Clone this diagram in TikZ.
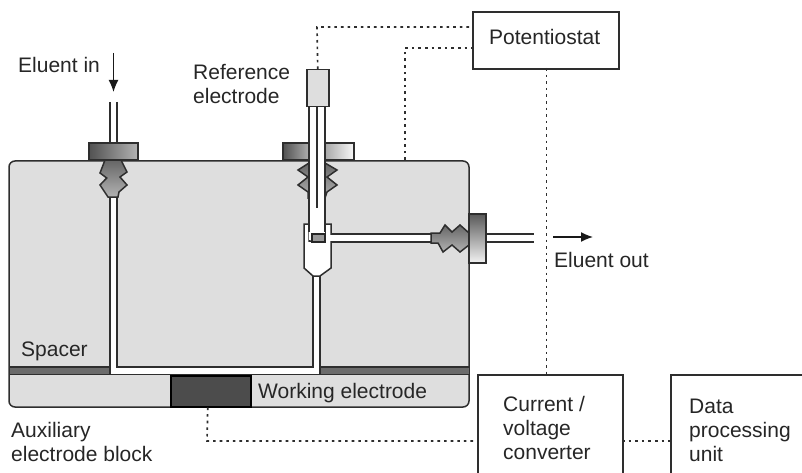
\documentclass[tikz,border=0pt]{standalone}
\usepackage{fontspec}
\setmainfont{Liberation Sans}
\usetikzlibrary{arrows, arrows.meta, positioning, calc, shadings}
\definecolor{blockgray}{gray}{0.87}
\definecolor{spacergray}{gray}{0.42}
\definecolor{workgray}{gray}{0.30}
\definecolor{linegray}{gray}{0.18}
\tikzset{
  >=latex,
  % Boxes and labels
  unit box/.style={draw=linegray,line width=1.6pt,fill=white,inner sep=0,anchor=north west},
  label text/.style={inner sep=0,anchor=west,align=left,font=\fontsize{21}{24}\selectfont,text=black!85},
  % Connections
  signal/.style={dash pattern=on 2.6pt off 4pt,line width=1.7pt,linegray},
  flow arrow/.style={-{Latex[length=12,width=10]},line width=1.4pt,black!90},
  wall/.style={line width=1.5pt,linegray},
  nut left/.style={draw=linegray,line width=1.5pt,left color=black!68,right color=black!30},
  nut light/.style={draw=linegray,line width=1.5pt,left color=black!35,right color=black!3},
  nut down/.style={draw=linegray,line width=1.5pt,top color=black!65,bottom color=black!5},
  screw/.style={draw=linegray,line width=1.5pt,top color=black!60,bottom color=black!30}
}

\begin{document}
\begin{tikzpicture}[x=1pt,y=-1pt]
\useasboundingbox (0,0) rectangle (802,473);

% Cell body
\draw[wall,fill=blockgray,rounded corners=6] (9,161) -- (469,161) -- (469,407) -- (9,407) -- cycle;
\fill[spacergray] (9.6,367) rectangle (468.4,374);
\draw[wall] (9,367) -- (469,367);
\draw[wall] (9,374.5) -- (469,374.5);
\node[draw=black,line width=1.5pt,fill=workgray,minimum width=80,minimum height=31,inner sep=0,anchor=north west] (work) at (170,375) {};

% Channels
\fill[white] (110,197) rectangle (117,374);
\fill[white] (110,367.7) rectangle (320,374);
\fill[white] (313,270) rectangle (320,374);
\draw[wall] (110,197) -- (110,374.5);
\draw[wall] (117,197) -- (117,367) -- (313,367) -- (313,276);
\draw[wall] (320,276) -- (320,374);
\draw[wall,fill=white] (304,224) -- (304,268) -- (313,276) -- (320,276) -- (331,268) -- (331,224) -- (325,224) -- (325,241) -- (309,241) -- (309,224) -- cycle;
\fill[white] (329,235) rectangle (432,241);
\draw[wall] (331,234) -- (432,234);
\draw[wall] (331,242) -- (432,242);

% Inlet fitting
\draw[wall] (110,102) -- (110,143);
\draw[wall] (117,102) -- (117,143);
\draw[screw] (105,160) -- (100,173) -- (106.7,178) -- (100,185) -- (108,197) -- (118,197) -- (119,192) -- (127,185) -- (120,177) -- (127,172) -- (121,160) -- cycle;
\draw[nut left] (89,143) rectangle (138,160);

% Reference electrode
\draw[nut left] (283,143) rectangle (310,160);
\draw[nut light] (324,143) rectangle (354,160);
\draw[screw] (309,163) -- (298,170) -- (308,177) -- (298,185) -- (308,192) -- (308,198) -- (309,198) -- cycle;
\draw[screw] (325,163) -- (337,170) -- (327,177) -- (337,185) -- (327,192) -- (325,198) -- cycle;
\fill[white] (309,106) rectangle (325,240);
\draw[wall] (309,106) -- (309,232);
\draw[wall] (325,106) -- (325,232);
\draw[line width=2pt,linegray] (317,106) -- (317,208);
\node[draw=black!85,line width=2.4pt,fill=black!40,minimum width=13,minimum height=8,inner sep=0,anchor=north west] (tip) at (310.5,233) {};
\node[draw=linegray,line width=1.5pt,fill=blockgray,minimum width=22,minimum height=37,inner sep=0,anchor=north west] (refhead) at (306,69) {};

% Outlet fitting
\draw[screw] (431,233) -- (440,233) -- (445,225) -- (452,232) -- (460,225) -- (469,233) -- (469,245) -- (460,252) -- (452,245) -- (443,252) -- (438,243) -- (431,243) -- cycle;
\draw[nut down] (469,214) rectangle (486,263);
\draw[wall] (486,234) -- (534,234);
\draw[wall] (486,242) -- (534,242);

% Units
\node[unit box,minimum width=146,minimum height=57] (pot) at (472,11) {};
\node[label text] at (489,37) {Potentiostat};
\node[unit box,minimum width=145,minimum height=110] (conv) at (477,374) {};
\node[label text] at (503,428) {Current /\\voltage\\converter};
\node[unit box,minimum width=140,minimum height=110] (data) at (670,374) {};
\node[label text] at (689,430) {Data\\processing\\unit};

% Labels
\node[label text] at (18,65) {Eluent in};
\node[label text] at (193,84) {Reference\\electrode};
\node[label text] at (554,260) {Eluent out};
\node[label text] at (21,351) {Spacer};
\node[label text] at (258,393) {Working electrode};
\node[label text] at (11,442) {Auxiliary\\electrode block};

% Flow arrows
\coordinate (in top) at (113.5,53);
\coordinate (in tip) at (113.5,92);
\coordinate (out tail) at (553,237);
\coordinate (out tip) at (593,237);
\draw[flow arrow] (in top) -- (in tip);
\draw[flow arrow] (out tail) -- (out tip);

% Signal lines
\coordinate (ref corner) at (317,27);
\coordinate (pot in) at (472,27);
\coordinate (block top) at (405,160);
\coordinate (block corner) at (405,48);
\coordinate (pot in low) at (472,48);
\coordinate (pot out) at (546.5,68);
\coordinate (conv top) at (546.5,374);
\coordinate (work corner) at (207,441);
\coordinate (conv in) at (477,441);
\coordinate (conv out) at (622,441);
\coordinate (data in) at (670,441);
\draw[signal] (refhead.north) -- (ref corner) -- (pot in);
\draw[signal] (block top) -- (block corner) -- (pot in low);
\draw[signal] (pot out) -- (conv top);
\draw[signal] (work.south) ++(-3,0) -- (work corner) -- (conv in);
\draw[signal] (conv out) -- (data in);

\end{tikzpicture}
\end{document}
